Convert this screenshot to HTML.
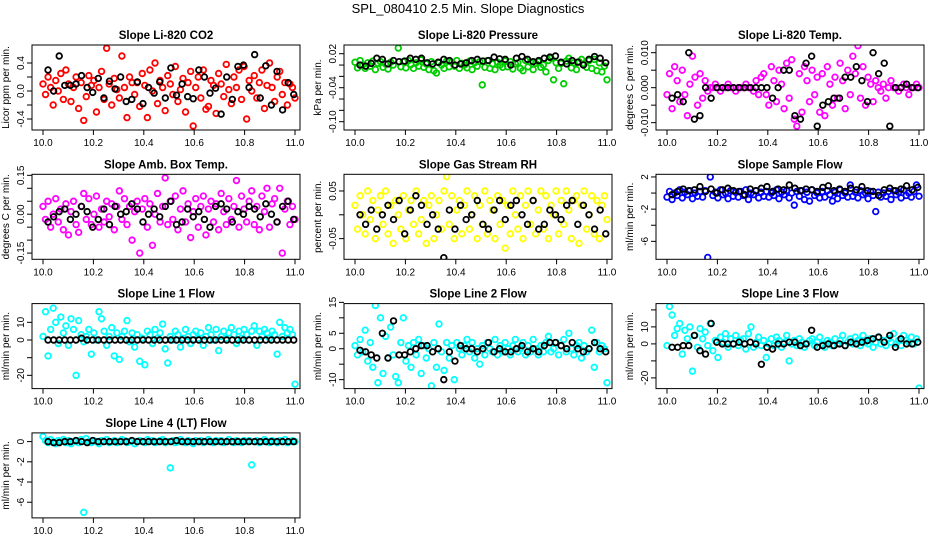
<!DOCTYPE html>
<html><head><meta charset="utf-8"><style>
html,body{margin:0;padding:0;background:#fff;}
svg{display:block;font-family:"Liberation Sans",Arial,sans-serif;}
</style></head><body>
<svg id="chart" width="936" height="540" viewBox="0 0 936 540">
<rect width="936" height="540" fill="#fff"/>
<text x="468" y="13" text-anchor="middle" font-size="13">SPL_080410  2.5 Min. Slope Diagnostics</text>
</svg>
<script>
const xTickValues=[10.0,10.2,10.4,10.6,10.8,11.0];
const xTickLabels=["10.0","10.2","10.4","10.6","10.8","11.0"];
const co2Color=[0.1,-0.05,0.2,0.05,-0.2,0.15,0.0,0.25,-0.12,0.3,0.1,-0.15,0.05,0.2,-0.25,0.12,-0.42,-0.08,0.22,0.08,0.15,-0.3,0.05,0.28,-0.12,0.61,0.1,-0.2,0.18,0.02,-0.1,0.5,0.05,-0.38,0.2,0.12,-0.05,0.12,-0.22,0.25,0.08,-0.38,0.3,0.0,0.4,-0.18,0.15,0.05,-0.28,0.22,0.1,-0.05,0.35,-0.15,0.02,0.18,-0.3,0.12,0.28,-0.5,0.05,0.2,-0.1,0.3,-0.26,-0.22,0.15,0.08,-0.32,0.25,0.1,-0.08,0.38,0.02,-0.18,0.2,0.05,0.3,-0.12,0.35,-0.4,0.15,0.0,0.22,-0.1,0.12,0.3,-0.25,0.08,0.4,0.05,-0.15,0.2,0.28,-0.05,0.12,-0.2,0.1,0.05,-0.1];
const co2Black=[0.3,0.0,0.5,0.08,0.08,0.1,0.22,0.05,-0.02,0.18,-0.1,0.14,0.03,0.2,-0.15,-0.12,0.13,-0.18,0.05,-0.03,0.13,-0.1,0.33,-0.06,0.1,-0.08,-0.11,0.3,0.2,-0.03,0.04,-0.33,0.2,-0.12,0.35,0.37,0.05,0.52,-0.1,0.36,-0.2,0.28,-0.27,0.12,-0.05];
const presColor=[0.005,-0.005,0.008,0.0,-0.006,0.004,-0.002,0.007,-0.008,0.003,0.006,-0.004,0.002,-0.007,0.005,0.0,-0.123,0.03,-0.003,0.006,-0.005,0.008,0.001,-0.006,0.004,-0.002,0.009,-0.004,0.002,-0.008,0.006,-0.01,-0.014,0.004,0.0,-0.006,0.007,-0.003,0.005,-0.002,0.008,-0.006,0.003,0.0,-0.005,0.007,-0.008,0.004,-0.002,0.006,-0.035,-0.004,0.008,-0.006,0.002,-0.008,0.005,0.0,-0.004,0.007,-0.003,0.006,-0.007,0.002,0.004,-0.006,-0.01,0.008,-0.003,0.005,-0.008,0.003,0.006,-0.004,0.0,-0.012,0.008,0.012,-0.026,0.004,-0.006,0.003,-0.033,0.007,0.012,-0.005,0.004,-0.008,0.006,0.01,0.002,-0.004,0.008,-0.006,0.01,-0.01,0.004,-0.012,-0.002,-0.026];
const presBlack=[0.0,-0.002,0.003,0.012,0.01,0.002,0.008,0.006,0.007,0.012,0.01,0.012,0.004,0.002,0.005,0.01,0.008,0.0,0.002,0.004,0.008,0.01,0.007,0.008,0.014,0.011,0.01,0.0,0.012,0.015,0.01,0.006,0.008,0.012,0.014,0.016,0.005,0.002,0.008,0.005,0.0,0.01,0.015,0.012,0.004];
const tempColor=[-0.002,0.004,-0.006,0.006,0.002,-0.004,0.005,-0.002,-0.008,0.001,0.009,0.003,-0.005,0.004,-0.003,0.002,-0.001,0.0,0.0,0.001,0.0,-0.001,0.0,0.0,0.001,0.0,0.0,-0.001,0.0,0.0,0.0,0.001,0.0,0.0,-0.001,0.002,-0.002,0.003,0.004,-0.002,-0.005,0.006,0.002,-0.004,0.005,0.001,-0.006,0.007,-0.003,0.008,-0.009,-0.011,0.004,-0.007,0.006,0.002,-0.004,0.005,-0.002,0.003,-0.007,0.004,-0.008,0.006,0.001,-0.005,0.003,-0.003,0.007,0.002,-0.006,0.005,-0.002,0.009,0.004,0.012,-0.003,0.006,-0.005,0.003,0.001,-0.004,0.002,0.0,-0.001,0.001,-0.003,0.0,0.002,0.0,0.0,-0.001,0.0,0.001,0.0,-0.002,0.0,0.0,0.001,0.0];
const tempBlack=[-0.003,-0.002,-0.004,0.01,-0.009,-0.008,0.0,-0.003,0.0,0.0,0.0,0.0,0.0,0.0,0.0,0.0,0.0,0.0,-0.003,0.0,0.005,0.005,-0.008,-0.009,0.007,0.009,-0.011,-0.005,-0.004,-0.003,-0.003,0.003,0.003,0.006,0.002,-0.004,0.01,0.004,0.007,-0.011,0.0,0.0,0.001,0.0,0.0];
const ambColor=[0.03,-0.02,0.05,-0.05,0.0,0.06,-0.03,0.02,-0.06,0.04,-0.08,0.01,0.05,-0.04,-0.07,0.03,0.08,-0.02,0.06,-0.04,0.0,0.07,-0.05,0.02,-0.03,0.05,-0.01,0.04,-0.06,0.03,0.09,-0.02,0.06,-0.04,0.03,-0.1,0.01,0.05,-0.15,0.02,0.06,-0.05,0.04,-0.12,0.0,0.08,-0.03,0.03,0.14,-0.04,0.05,-0.02,0.07,-0.06,0.02,0.09,-0.03,0.04,-0.09,0.01,0.06,-0.05,0.03,0.07,-0.08,0.02,0.05,-0.03,0.04,-0.06,0.08,0.01,-0.04,0.06,-0.02,0.03,0.13,-0.05,0.07,0.02,-0.03,0.05,0.09,-0.04,0.03,-0.06,0.07,0.01,0.1,-0.05,0.04,0.06,-0.03,0.1,-0.15,0.02,0.05,-0.04,0.03,-0.02];
const ambBlack=[-0.03,-0.01,0.01,0.02,-0.02,0.0,0.03,0.01,-0.05,-0.02,0.02,-0.04,0.03,0.0,0.01,0.04,0.02,-0.03,0.0,0.02,-0.01,0.03,0.05,-0.04,-0.03,0.02,-0.01,0.01,-0.02,-0.05,0.03,0.04,0.02,-0.03,0.01,0.0,0.03,0.02,-0.01,0.04,0.0,-0.03,0.03,0.05,-0.02];
const rhColor=[0.02,-0.03,0.04,0.0,-0.04,0.05,-0.01,0.03,-0.05,0.01,0.04,-0.02,0.05,-0.04,0.02,-0.06,0.03,0.0,-0.03,0.04,-0.05,0.01,0.03,-0.02,0.05,-0.04,-0.01,0.03,-0.06,0.02,0.04,-0.05,0.0,0.03,-0.03,0.05,0.08,-0.02,0.04,-0.05,0.01,0.03,-0.04,0.02,0.05,-0.03,0.0,0.04,-0.05,0.02,-0.02,0.05,-0.04,0.03,0.01,-0.05,0.04,-0.02,0.03,-0.07,0.02,-0.04,0.05,0.0,-0.03,0.04,-0.05,0.02,0.05,-0.02,0.03,-0.04,0.01,0.05,-0.03,0.04,-0.05,0.02,0.0,0.05,-0.04,0.03,-0.02,0.05,0.01,-0.05,0.03,0.04,-0.06,0.02,0.05,-0.03,0.0,0.04,-0.04,0.03,-0.05,0.02,0.04,-0.01];
const rhBlack=[0.0,-0.02,0.01,-0.03,0.0,0.02,-0.01,0.03,-0.04,0.01,0.04,0.02,-0.02,0.0,-0.03,-0.09,0.01,-0.03,0.02,-0.01,0.0,0.03,-0.02,-0.03,0.01,0.03,-0.01,0.02,0.03,0.0,-0.02,0.03,-0.03,-0.02,0.01,0.0,-0.01,0.02,0.03,-0.02,0.02,0.0,-0.03,0.01,-0.04];
const flowColor=[-0.5,0.2,-0.8,0.0,-0.3,0.4,-0.6,0.1,-0.2,0.3,-0.7,0.0,-0.4,0.2,-0.5,0.3,-8.0,2.0,-0.3,0.1,-0.6,0.4,-0.2,0.0,-0.7,0.3,-0.4,0.1,-0.5,0.2,-0.3,0.4,-0.8,0.0,-0.2,0.3,-0.6,0.1,-0.4,0.2,-0.5,0.0,-0.3,0.4,-0.7,0.1,-0.2,0.3,-0.6,0.0,-1.5,0.2,-0.4,0.3,-0.8,0.1,-1.0,0.4,-0.3,0.0,-0.6,0.2,-0.5,0.3,-0.2,-1.0,0.1,-0.7,0.4,-0.3,0.0,-0.5,1.0,-0.4,0.1,-0.6,0.3,-0.2,0.0,-0.7,0.2,-0.3,-2.3,0.1,-0.5,0.0,-0.4,0.2,-0.8,0.3,-0.2,0.1,-0.6,0.4,-0.3,0.0,-0.5,0.2,1.0,-0.4];
const flowBlack=[-0.2,0.2,0.5,0.3,0.4,0.8,0.2,0.5,0.0,0.4,0.6,0.3,0.2,-0.2,0.5,0.3,0.6,0.8,0.2,0.5,0.4,1.0,0.6,0.3,0.5,0.4,0.2,0.7,0.9,0.3,0.5,0.2,0.6,0.4,0.8,0.3,0.2,-0.3,0.4,0.6,0.3,0.5,0.9,0.4,0.7];
const line1Color=[2,16,-9,6,18,10,-2,13,4,8,-3,12,6,-20,11,3,-1,2,6,-8,4,0,16,12,5,-3,2,7,-9,4,-11,2,5,11,-1,4,-4,3,-12,1,-14,5,3,-2,6,1,4,9,-5,-13,2,0,5,3,-4,1,6,2,-2,3,5,1,4,-3,2,7,3,0,6,-6,2,5,1,4,7,3,-2,5,1,6,3,0,5,8,-3,5,2,6,4,1,5,3,-8,10,2,7,4,6,3,-25];
const line1Black=[0,0,0,0,0,0,1,0,0,0,0,0,0,0,0,0,0,0,0,0,0,0,0,0,0,0,0,0,0,0,0,0,0,0,0,0,0,0,0,0,0,0,0,0,0];
const line2Color=[1,-2,3,-1,6,-4,2,-6,14,-11,10,-8,4,-3,7,-2,-9,-11,2,10,-4,1,-6,2,-2,3,-8,1,-3,0,-12,2,-6,8,-1,-7,2,-3,1,-10,2,0,-2,1,3,-1,2,-3,0,-5,1,-2,2,0,-1,3,-2,1,-1,2,0,-2,1,3,-1,0,2,-2,1,-1,3,0,-2,1,-1,2,4,-1,0,2,-2,1,3,-1,5,0,-2,1,2,-3,1,-1,0,6,-6,2,-1,1,0,-11];
const line2Black=[-0.5,-1,-2,-3,5,-3,9,-2,-2,-1,0,1,1,-1,0,-10,-1,-4,1,0,0,-1,0,2,-1,0,-1,-1,0,1,-1,0,-1,1,2,2,1,0,2,0,-1,0,2,0,-1];
const line3Color=[-1,22,17,5,9,12,-6,8,3,10,-16,5,-2,9,3,7,-1,12,-4,2,-8,4,1,6,-2,3,0,5,-1,2,3,-3,6,10,-2,1,4,-1,2,-8,0,3,-1,4,2,-2,1,5,-10,0,2,-1,3,1,-2,0,2,3,-1,1,4,0,-2,2,1,-1,3,0,2,5,-1,1,3,0,4,2,-1,5,1,0,3,-2,1,4,0,2,-1,3,1,6,0,2,-1,5,2,1,4,0,3,-26];
const line3Black=[-2,-2,-1,-1,5,-4,-6,12,1,0,0,0,1,0,1,0,-12,-2,-3,0,0,1,1,-1,0,8,-2,-1,0,-1,0,-1,1,0,1,2,3,4,1,5,-2,3,0,0,1];
const line4Color=[0.5,0.1,-0.1,0.2,0.0,-0.2,0.1,0.0,0.2,-0.1,0.1,-0.2,0.0,0.1,-0.1,0.2,-7.0,0.3,0.0,-0.1,0.1,0.0,-0.2,0.1,0.0,0.2,-0.1,0.0,0.1,-0.1,0.0,0.2,0.1,-0.1,0.0,0.1,-0.2,0.0,0.1,0.0,-0.1,0.2,0.0,0.1,-0.1,0.0,0.1,0.2,-0.1,0.0,-2.6,0.1,-0.1,0.0,0.2,0.0,-0.1,0.1,0.0,-0.2,0.1,0.0,0.1,-0.1,0.0,0.2,0.0,-0.1,0.1,0.0,0.1,-0.1,0.0,0.2,0.0,-0.1,0.1,0.0,-0.1,0.1,0.0,0.1,-2.3,0.0,0.1,-0.1,0.0,0.2,0.0,-0.1,0.1,0.0,-0.1,0.1,0.0,0.2,-0.1,0.0,0.1,0.0];
const line4Black=[0,-0.1,-0.1,0,0,0.1,0,-0.1,0.1,0,0,0,0,0,0,0.1,0,0,0,0,0,0,0,0.1,0,0,0,0,0,0,0,0,0,0,0,0,0,0,0,0,0,0,0,0,0];

const panels=[
 {name:"co2",title:"Slope Li-820 CO2",ylab:"Licor ppm per min.",color:"#ff0000",c:co2Color,k:co2Black,ylim:[-0.557,0.657],ticks:[-0.4,-0.2,0,0.2,0.4],labels:{"-0.4":"-0.4","0":"0.0","0.4":"0.4"}},
 {name:"pressure",title:"Slope Li-820 Pressure",ylab:"kPa per min.",color:"#00cd00",c:presColor,k:presBlack,ylim:[-0.1147,0.0354],ticks:[-0.1,-0.08,-0.06,-0.04,-0.02,0,0.02],labels:{"0.02":"0.02","-0.04":"-0.04","-0.1":"-0.10"}},
 {name:"li820-temp",title:"Slope Li-820 Temp.",ylab:"degrees C per min.",color:"#ff00ff",c:tempColor,k:tempBlack,ylim:[-0.0121,0.0122],ticks:[-0.01,-0.005,0,0.005,0.01],labels:{"-0.01":"-0.010","0":"0.000","0.01":"0.010"}},
 {name:"amb-box-temp",title:"Slope Amb. Box Temp.",ylab:"degrees C per min.",color:"#ff00ff",c:ambColor,k:ambBlack,ylim:[-0.174,0.154],ticks:[-0.15,-0.1,-0.05,0,0.05,0.1,0.15],labels:{"-0.15":"-0.15","0":"0.00","0.15":"0.15"}},
 {name:"gas-stream-rh",title:"Slope Gas Stream RH",ylab:"percent per min.",color:"#ffff00",c:rhColor,k:rhBlack,ylim:[-0.0934,0.085],ticks:[-0.05,0,0.05],labels:{"-0.05":"-0.05","0.05":"0.05"}},
 {name:"sample-flow",title:"Slope Sample Flow",ylab:"ml/min per min.",color:"#0000ff",c:flowColor,k:flowBlack,ylim:[-8.23,2.33],ticks:[-6,-4,-2,0,2],labels:{"-6":"-6","-2":"-2","2":"2"}},
 {name:"line1-flow",title:"Slope Line 1 Flow",ylab:"ml/min per min.",color:"#00ffff",c:line1Color,k:line1Black,ylim:[-27.5,20.6],ticks:[-20,-10,0,10],labels:{"-20":"-20","0":"0","10":"10"}},
 {name:"line2-flow",title:"Slope Line 2 Flow",ylab:"ml/min per min.",color:"#00ffff",c:line2Color,k:line2Black,ylim:[-12.9,14.6],ticks:[-10,-5,0,5,10,15],labels:{"-10":"-10","0":"0","5":"5","15":"15"}},
 {name:"line3-flow",title:"Slope Line 3 Flow",ylab:"ml/min per min.",color:"#00ffff",c:line3Color,k:line3Black,ylim:[-26.3,23.7],ticks:[-20,-10,0,10,20],labels:{"-20":"-20","0":"0","10":"10"}},
 {name:"line4-flow",title:"Slope Line 4 (LT) Flow",ylab:"ml/min per min.",color:"#00ffff",c:line4Color,k:line4Black,ylim:[-7.55,0.86],ticks:[-6,-4,-2,0],labels:{"-6":"-6","-4":"-4","-2":"-2","0":"0"}}
];

const svg=document.getElementById('chart');
const NS="http://www.w3.org/2000/svg";
function mk(tag,attrs,parent){const e=document.createElementNS(NS,tag);for(const k in attrs)e.setAttribute(k,attrs[k]);parent.appendChild(e);return e;}

panels.forEach((p,idx)=>{
  const col=idx%3,row=Math.floor(idx/3);
  const left=32+312*col,right=300+312*col;
  const top=45+129.3*row,bottom=top+85;
  const x0=43+312*col,x1=295+312*col;
  const xs=v=>x0+(v-10)*(x1-x0);
  const ys=v=>bottom-(v-p.ylim[0])/(p.ylim[1]-p.ylim[0])*(bottom-top);
  const g=mk('g',{},svg);
  
  
  const clip=mk('clipPath',{id:'clip'+idx},g);
  mk('rect',{x:left,y:top,width:right-left,height:bottom-top},clip);
  const t=mk('text',{x:(left+right)/2,y:top-6,'text-anchor':'middle','font-size':'11.5','font-weight':'bold'},g);
  t.textContent=p.title;
  
  
  const yl=mk('text',{x:0,y:0,'text-anchor':'middle','font-size':'10',transform:`translate(${left-23},${(top+bottom)/2}) rotate(-90)`},g);
  yl.textContent=p.ylab;
  
  
  const pts=mk('g',{'clip-path':`url(#clip${idx})`,fill:'none','stroke-width':'1.8'},g);
  
  
  const n=p.c.length;
  p.c.forEach((v,i)=>{
    const c=mk('circle',{cx:xs(10+i/(n-1)),cy:ys(v),r:2.8,stroke:p.color},pts);
    
    
  });
  const m=p.k.length;
  p.k.forEach((v,i)=>{
    const c=mk('circle',{cx:xs(10.02+i*0.975/(m-1)),cy:ys(v),r:2.8,stroke:'#000'},pts);
    
    
  });
  const box=mk('rect',{x:left,y:top,width:right-left,height:bottom-top,fill:'none',stroke:'#000','stroke-width':'1'},g);
  
  
  xTickValues.forEach((v,i)=>{
    const X=xs(v);
    mk('line',{x1:X,x2:X,y1:bottom,y2:bottom+5,stroke:'#000'},g);
    const tl=mk('text',{x:X,y:bottom+16,'text-anchor':'middle','font-size':'10'},g);
    tl.textContent=xTickLabels[i];
    
    
  });
  p.ticks.forEach(v=>{
    const Y=ys(v);
    mk('line',{x1:left-5,x2:left,y1:Y,y2:Y,stroke:'#000'},g);
    const lab=p.labels[String(v)];
    if(lab!==undefined){
      const tl=mk('text',{x:0,y:0,'text-anchor':'middle','font-size':'10',transform:`translate(${left-8},${Y}) rotate(-90)`},g);
      tl.textContent=lab;
      
      
    }
  });
});
</script>
</body></html>
